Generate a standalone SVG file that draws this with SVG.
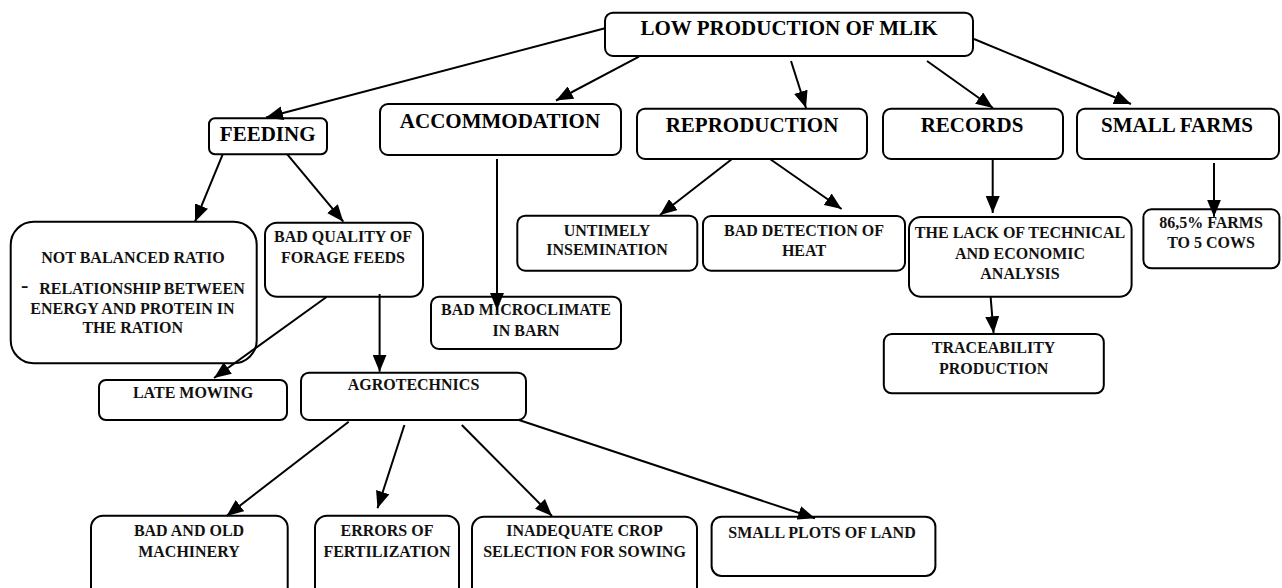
<svg xmlns="http://www.w3.org/2000/svg" width="1282" height="588" viewBox="0 0 1282 588">
<style>
.box{fill:#fff;stroke:#000;stroke-width:2}
.big{font-family:"Liberation Serif","Times New Roman",serif;font-weight:bold;font-size:21px;fill:#000;text-anchor:middle}
.sm{font-family:"Liberation Serif","Times New Roman",serif;font-weight:bold;font-size:16px;fill:#111;text-anchor:middle}
.cn line{stroke:#000;stroke-width:2;marker-end:url(#ah)}
</style>
<defs>
<marker id="ah" markerUnits="userSpaceOnUse" markerWidth="17" markerHeight="14" refX="17" refY="7" orient="auto">
<path d="M0,0 L17,7 L0,14 z" fill="#000"/>
</marker>
</defs>
<rect width="1282" height="588" fill="#fff"/>
<g id="root"><rect class="box" x="605" y="12.7" width="368" height="43.3" rx="8"/><text class="big" x="789" y="35">LOW PRODUCTION OF MLIK</text></g>
<g id="feeding"><rect class="box" x="209" y="118.3" width="118" height="36" rx="6"/><text class="big" x="267.7" y="140.7">FEEDING</text></g>
<g id="accommodation"><rect class="box" x="380" y="104" width="241" height="51" rx="8"/><text class="big" x="500" y="127.7">ACCOMMODATION</text></g>
<g id="reproduction"><rect class="box" x="637" y="108.7" width="230" height="50.3" rx="8"/><text class="big" x="752" y="132">REPRODUCTION</text></g>
<g id="records"><rect class="box" x="883" y="108.7" width="180" height="50.3" rx="8"/><text class="big" x="972" y="132">RECORDS</text></g>
<g id="small-farms"><rect class="box" x="1077" y="108.7" width="202" height="50.3" rx="8"/><text class="big" x="1177" y="132">SMALL FARMS</text></g>
<g id="not-balanced"><rect class="box" x="10.7" y="221.7" width="246" height="141.6" rx="23"/>
<text class="sm" x="133" y="263.3">NOT BALANCED RATIO</text>
<text class="sm" x="24.7" y="292" style="font-size:22px">-</text>
<text class="sm" x="142" y="294">RELATIONSHIP BETWEEN</text>
<text class="sm" x="132.5" y="314.3">ENERGY AND PROTEIN IN</text>
<text class="sm" x="132.7" y="333.3">THE RATION</text></g>
<g id="bad-quality"><rect class="box" x="265" y="222.7" width="158" height="74" rx="12"/><text class="sm" x="343" y="241.7">BAD QUALITY OF</text><text class="sm" x="343" y="263.3">FORAGE FEEDS</text></g>
<g id="untimely"><rect class="box" x="517.3" y="215.7" width="180" height="55" rx="8"/><text class="sm" x="607" y="235.7">UNTIMELY</text><text class="sm" x="607" y="255">INSEMINATION</text></g>
<g id="bad-detection"><rect class="box" x="703" y="216" width="202" height="54.7" rx="8"/><text class="sm" x="804" y="235.5">BAD DETECTION OF</text><text class="sm" x="804" y="256">HEAT</text></g>
<g id="lack"><rect class="box" x="909" y="217" width="222.6" height="79.7" rx="12"/><text class="sm" x="1020" y="238.3">THE LACK OF TECHNICAL</text><text class="sm" x="1020" y="259">AND ECONOMIC</text><text class="sm" x="1020" y="279.3">ANALYSIS</text></g>
<g id="farms-865"><rect class="box" x="1143.4" y="209.3" width="136" height="59" rx="8"/><text class="sm" x="1211" y="228.3">86,5% FARMS</text><text class="sm" x="1211" y="248.3">TO 5 COWS</text></g>
<g id="microclimate"><rect class="box" x="431" y="296.7" width="190" height="52.3" rx="8"/><text class="sm" x="526" y="315">BAD MICROCLIMATE</text><text class="sm" x="526" y="335.7">IN BARN</text></g>
<g id="traceability"><rect class="box" x="883.8" y="334" width="220" height="59.3" rx="8"/><text class="sm" x="993.6" y="353.3">TRACEABILITY</text><text class="sm" x="993.6" y="374">PRODUCTION</text></g>
<g id="late-mowing"><rect class="box" x="99" y="380" width="188" height="40" rx="7"/><text class="sm" x="193" y="397.5">LATE MOWING</text></g>
<g id="agrotechnics"><rect class="box" x="301" y="372.7" width="225" height="47.3" rx="8"/><text class="sm" x="413.5" y="390">AGROTECHNICS</text></g>
<g id="bad-old"><rect class="box" x="91" y="515.7" width="196.7" height="90" rx="12"/><text class="sm" x="189" y="536">BAD AND OLD</text><text class="sm" x="189" y="556.7">MACHINERY</text></g>
<g id="errors"><rect class="box" x="315" y="515.7" width="144" height="90" rx="12"/><text class="sm" x="387" y="536">ERRORS OF</text><text class="sm" x="387" y="556.7">FERTILIZATION</text></g>
<g id="inadequate"><rect class="box" x="472" y="516.7" width="225" height="90" rx="12"/><text class="sm" x="584.5" y="536">INADEQUATE CROP</text><text class="sm" x="584.5" y="556.7">SELECTION FOR SOWING</text></g>
<g id="small-plots"><rect class="box" x="711.6" y="516.7" width="223.8" height="59.3" rx="10"/><text class="sm" x="822" y="537.7">SMALL PLOTS OF LAND</text></g>
<g id="connectors" class="cn">
<line x1="605" y1="28.3" x2="266" y2="117.5"/>
<line x1="639" y1="56.7" x2="556" y2="100.5"/>
<line x1="791" y1="61" x2="806" y2="108"/>
<line x1="927" y1="61" x2="993" y2="108"/>
<line x1="974" y1="39" x2="1131" y2="104"/>
<line x1="222.7" y1="154.3" x2="195" y2="221.7"/>
<line x1="287.3" y1="154.3" x2="343.3" y2="221.7"/>
<line x1="497" y1="159" x2="497" y2="310"/>
<line x1="732" y1="159" x2="660" y2="215"/>
<line x1="770" y1="159" x2="841.6" y2="209"/>
<line x1="992.7" y1="160" x2="992.7" y2="213"/>
<line x1="1214" y1="163" x2="1214" y2="216.7"/>
<line x1="990.6" y1="296.7" x2="993.6" y2="333.3"/>
<line x1="326.5" y1="297" x2="214" y2="378"/>
<line x1="379.6" y1="294" x2="379.6" y2="371.7"/>
<line x1="348.7" y1="421.7" x2="226.5" y2="516"/>
<line x1="404.4" y1="425" x2="377.5" y2="508.3"/>
<line x1="461.8" y1="425" x2="552" y2="516"/>
<line x1="519" y1="420" x2="815" y2="518.3"/>
</g>
</svg>
